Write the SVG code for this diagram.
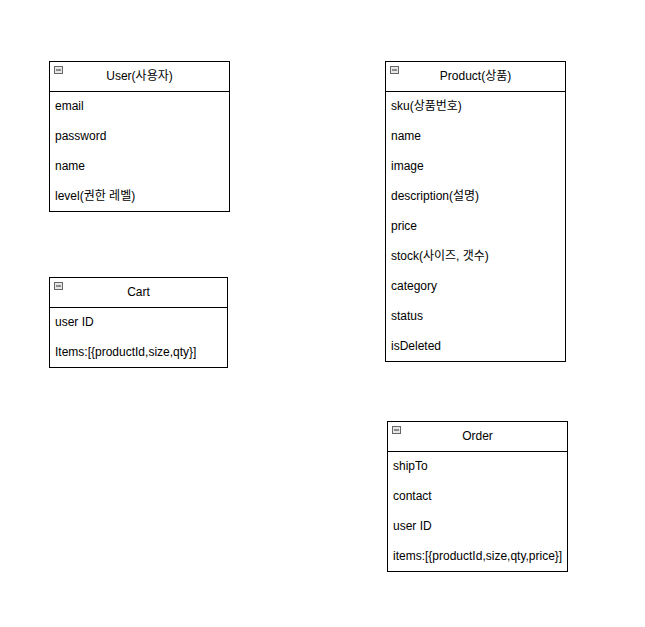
<svg xmlns="http://www.w3.org/2000/svg" width="645" height="627" viewBox="0 0 645 627">
<style>
.box{fill:#fff;stroke:#000;stroke-width:1}
.sep{stroke:#000;stroke-width:1}
.t{font-family:"Liberation Sans",Arial,"Noto Sans CJK KR",sans-serif;font-size:12px;fill:#000}
.h{text-anchor:middle}
.ic{fill:#e6e6e6;stroke:#666;stroke-width:1}
.icl{stroke:#333;stroke-width:1}
</style>
<defs>
<g id="icon"><rect class="ic" x="0.5" y="0.5" width="8" height="7"/><line class="icl" x1="2" y1="4" x2="7" y2="4"/></g>
</defs>
<rect width="645" height="627" fill="#fff"/>
<g id="connectors"></g>
<g id="user">
<rect class="box" x="49.5" y="61.5" width="180" height="150"/>
<line class="sep" x1="49.5" y1="91.5" x2="229.5" y2="91.5"/>
<use href="#icon" x="54" y="66"/>
<text class="t h" x="139.5" y="80">User(사용자)</text>
<text class="t" x="55" y="110">email</text>
<text class="t" x="55" y="140">password</text>
<text class="t" x="55" y="170">name</text>
<text class="t" x="55" y="200">level(권한 레벨)</text>
</g>
<g id="product">
<rect class="box" x="385.5" y="61.5" width="180" height="300"/>
<line class="sep" x1="385.5" y1="91.5" x2="565.5" y2="91.5"/>
<use href="#icon" x="390" y="66"/>
<text class="t h" x="475.5" y="80">Product(상품)</text>
<text class="t" x="391" y="110">sku(상품번호)</text>
<text class="t" x="391" y="140">name</text>
<text class="t" x="391" y="170">image</text>
<text class="t" x="391" y="200">description(설명)</text>
<text class="t" x="391" y="230">price</text>
<text class="t" x="391" y="260">stock(사이즈, 갯수)</text>
<text class="t" x="391" y="290">category</text>
<text class="t" x="391" y="320">status</text>
<text class="t" x="391" y="350">isDeleted</text>
</g>
<g id="cart">
<rect class="box" x="49.5" y="277.5" width="178" height="90"/>
<line class="sep" x1="49.5" y1="307.5" x2="227.5" y2="307.5"/>
<use href="#icon" x="54" y="282"/>
<text class="t h" x="138.5" y="296">Cart</text>
<text class="t" x="55" y="326">user ID</text>
<text class="t" x="55" y="356">Items:[{productId,size,qty}]</text>
</g>
<g id="order">
<rect class="box" x="387.5" y="421.5" width="180" height="150"/>
<line class="sep" x1="387.5" y1="451.5" x2="567.5" y2="451.5"/>
<use href="#icon" x="392" y="426"/>
<text class="t h" x="477.5" y="440">Order</text>
<text class="t" x="393" y="470">shipTo</text>
<text class="t" x="393" y="500">contact</text>
<text class="t" x="393" y="530">user ID</text>
<text class="t" x="393" y="560">items:[{productId,size,qty,price}]</text>
</g>
</svg>
